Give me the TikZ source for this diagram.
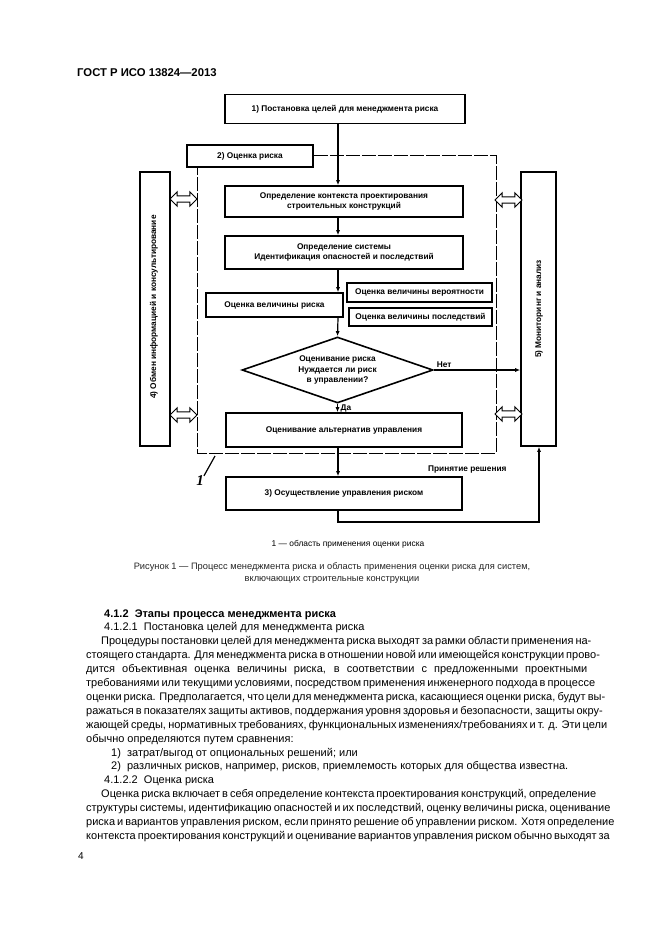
\documentclass[tikz,border=0pt]{standalone}
\usepackage{fontspec}
\setmainfont{Liberation Sans}
\newfontfamily\serifit{Liberation Serif}
\usetikzlibrary{shapes.geometric,shapes.arrows,arrows.meta}
\newcommand\dfont{\fontsize{8.3}{10.5}\selectfont\bfseries}
\newcommand\bodyf{\fontsize{11}{13}\selectfont}
\newcommand\jl[4]{\node[txt] (#1) at (#2,#3) {\makebox[\dimexpr 587pt-#2pt\relax][s]{#4}};}
\begin{document}
\begin{tikzpicture}[x=1pt,y=-1pt]
\tikzset{
  box/.style={draw, line width=1.6pt, align=center, font=\dfont, inner sep=1pt},
  sbox/.style={draw, line width=1.1pt, align=center, font=\dfont, inner sep=1pt},
  arr/.style={line width=1.2pt, -{Latex[length=5pt,width=4pt]}},
  scope/.style={line width=1pt, dash pattern=on 14pt off 2pt},
  dbl/.style={double arrow, draw, fill=white, line width=1pt, inner sep=2.6pt,
     double arrow head extend=4pt, minimum height=27pt},
  txt/.style={anchor=base west, inner sep=0pt, font=\bodyf},
}
\useasboundingbox (0,0) rectangle (661,936);
\fill[white] (0,0) rectangle (661,936);
% header
\node[anchor=base west, inner sep=0pt, font=\fontsize{11.3}{13}\selectfont\bfseries] (hdr) at (77,77) {ГОСТ Р ИСО 13824—2013};

% diagram boxes
\node[box, minimum width=240pt, minimum height=29pt] (b1) at (345,109) {1) Постановка целей для менеджмента риска};
\node[box, minimum width=126pt, minimum height=22pt] (b2) at (250,156) {2) Оценка риска};
\node[box, minimum width=238pt, minimum height=31pt] (ctx) at (344,201.5) {Определение контекста проектирования\\строительных конструкций};
\node[box, minimum width=238pt, minimum height=33pt] (sys) at (344,252.5) {Определение системы\\Идентификация опасностей и последствий};
\node[box, minimum width=137pt, minimum height=24pt] (est) at (274.5,305) {Оценка величины риска};
\node[sbox, minimum width=145pt, minimum height=19pt] (prob) at (419.5,292.5) {Оценка величины вероятности};
\node[sbox, minimum width=143pt, minimum height=18pt] (cons) at (420.5,317) {Оценка величины последствий};
\node[diamond, draw, line width=1.6pt, minimum width=191pt, minimum height=66pt, inner sep=0pt, aspect=2.9, font=\dfont, align=center] (dia) at (337.5,370) {};
\node[font=\dfont, align=center, inner sep=0pt] (diat) at (337.5,370) {Оценивание риска\\Нуждается ли риск\\в управлении?};
\node[box, minimum width=236pt, minimum height=34pt] (alt) at (344,430) {Оценивание альтернатив управления};
\node[box, minimum width=236pt, minimum height=33pt] (b3) at (344,493.5) {3) Осуществление управления риском};
\node[box, minimum width=30pt, minimum height=274pt] (L) at (155,309) {};
\node[font=\dfont, rotate=90, inner sep=0pt] (Lt) at (154,307) {4) Обмен информацией и консультирование};
\node[box, minimum width=35pt, minimum height=274pt] (R) at (538.5,309) {};
\node[font=\dfont, rotate=90, inner sep=0pt] (Rt) at (539,309) {5) Мониторинг и анализ};

% scope (dashed) rectangle
\coordinate (s1) at (496,156);
\coordinate (s2) at (496,453);
\coordinate (s3) at (197,453);
\coordinate (s4) at (197,167);
\draw[scope] (b2.east) -- (s1) -- (s2) -- (s3) -- (s4);

% arrows
\draw[arr] (b1.south -| 338,0) -- (ctx.north -| 338,0);
\draw[arr] (ctx.south -| 338,0) -- (sys.north -| 338,0);
\draw[arr] (sys.south -| 338,0) -- (est.north -| 338,0);
\draw[arr] (est.south -| 338,0) -- (dia.north);
\draw[arr] (dia.south) -- (alt.north -| dia.south);
\node[font=\dfont, anchor=west, inner sep=0pt] (da) at (340.5,408) {Да};
\draw[arr] (alt.south -| 338,0) -- (b3.north -| 338,0);
\draw[arr] (dia.east) -- (R.west |- dia.east) node[pos=0.12, above, font=\dfont, inner sep=2pt] (net) {Нет};
\coordinate (f1) at (338,522);
\coordinate (f2) at (539,522);
\draw[arr] (b3.south -| f1) -- (f1) -- (f2) -- (R.south -| f2);
\node[font=\dfont, anchor=base west, inner sep=0pt] (prin) at (428,471) {Принятие решения};

% double arrows
\node[dbl] (da1) at (183.5,199) {};
\node[dbl] (da2) at (183.5,415) {};
\node[dbl] (da3) at (508.5,200) {};
\node[dbl] (da4) at (508.5,414) {};

% label 1
\node[font=\fontsize{15}{15}\selectfont\serifit\bfseries\itshape, inner sep=0pt] (one) at (200,481) {1};
\coordinate (onetip) at (215,456);
\draw[line width=1.2pt] (one.north east) -- (onetip);

% footnote and caption
\node[font=\fontsize{8.4}{10}\selectfont, inner sep=0pt, anchor=base] (fn) at (348,546) {1 — область применения оценки риска};
\node[font=\fontsize{9.3}{12}\selectfont, inner sep=0pt, anchor=base, text=black!85] (cap1) at (332,569) {Рисунок 1 — Процесс менеджмента риска и область применения оценки риска для систем,};
\node[font=\fontsize{9.3}{12}\selectfont, inner sep=0pt, anchor=base, text=black!85] (cap2) at (332,581) {включающих строительные конструкции};

% body text
\node[txt, font=\bodyf\bfseries] (t0) at (104,617) {4.1.2\ \ Этапы процесса менеджмента риска};
\node[txt] (t1) at (104,630.9) {4.1.2.1\ \ Постановка целей для менеджмента риска};
\jl{t2}{101}{644.8}{Процедуры постановки целей для менеджмента риска выходят за рамки области применения на-}
\jl{t3}{86}{658.7}{стоящего стандарта. Для менеджмента риска в отношении новой или имеющейся конструкции прово-}
\jl{t4}{86}{672.6}{дится объективная оценка величины риска, в соответствии с предложенными проектными}
\jl{t5}{86}{686.5}{требованиями или текущими условиями, посредством применения инженерного подхода в процессе}
\jl{t6}{86}{700.4}{оценки риска. Предполагается, что цели для менеджмента риска, касающиеся оценки риска, будут вы-}
\jl{t7}{86}{714.3}{ражаться в показателях защиты активов, поддержания уровня здоровья и безопасности, защиты окру-}
\jl{t8}{86}{728.2}{жающей среды, нормативных требованиях, функциональных изменениях/требованиях и т. д. Эти цели}
\node[txt] (t9) at (86,742.1) {обычно определяются путем сравнения:};
\node[txt] (t10) at (111,756) {1)\ \ затрат/выгод от опциональных решений; или};
\node[txt] (t11) at (111,769.9) {2)\ \ различных рисков, например, рисков, приемлемость которых для общества известна.};
\node[txt] (t12) at (104,783.8) {4.1.2.2\ \ Оценка риска};
\jl{t13}{101}{797.7}{Оценка риска включает в себя определение контекста проектирования конструкций, определение}
\jl{t14}{86}{811.6}{структуры системы, идентификацию опасностей и их последствий, оценку величины риска, оценивание}
\jl{t15}{86}{825.5}{риска и вариантов управления риском, если принято решение об управлении риском. Хотя определение}
\jl{t16}{86}{839.4}{контекста проектирования конструкций и оценивание вариантов управления риском обычно выходят за}
\node[txt, font=\fontsize{10}{12}\selectfont] (pg) at (78,859) {4};
\end{tikzpicture}
\end{document}
